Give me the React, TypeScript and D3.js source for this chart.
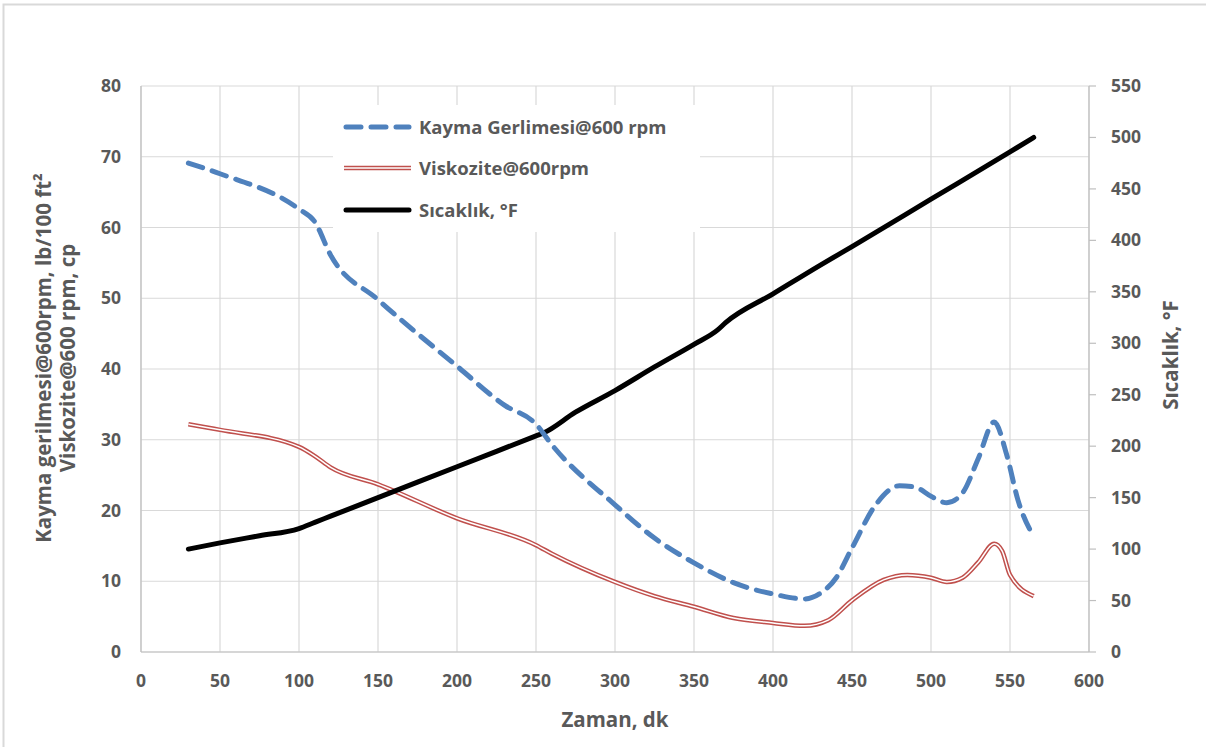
import React from 'react';
import { scaleLinear, line, curveMonotoneX, range } from 'd3';

const W = 1206;
const H = 747;

// time, min
const zaman = [30, 50, 100, 110, 120, 150, 200, 230, 250, 260, 300, 325, 350, 375, 400, 420, 430, 440, 450, 465, 480, 490, 500, 510, 520, 530, 540, 548, 555, 565];
// shear stress @600 rpm
const kayma = [69.1, 67.6, 62.6, 60.8, 56.1, 49.8, 40.4, 34.9, 32.2, 29.3, 20.8, 16.1, 12.6, 9.8, 8.2, 7.5, 8.3, 10.5, 14.7, 20.8, 23.5, 23.3, 22.0, 21.1, 22.5, 27.4, 32.5, 27.8, 21.5, 16.3];

const viskT = [30, 50, 100, 110, 120, 150, 200, 250, 260, 300, 325, 350, 375, 400, 420, 435, 450, 470, 485, 500, 510, 520, 530, 540, 545, 550, 565];
const visk = [32.2, 31.4, 29.0, 27.7, 26.1, 23.7, 18.9, 15.1, 13.9, 9.9, 7.9, 6.4, 4.8, 4.1, 3.7, 4.5, 7.3, 10.2, 10.9, 10.5, 9.9, 10.5, 12.7, 15.3, 14.3, 10.9, 7.9];

const sicakT = [30, 50, 75, 100, 110, 120, 150, 200, 250, 255, 275, 300, 325, 350, 365, 370, 400, 430, 450, 500, 550, 565];
const sicak = [100, 106, 113, 120, 126, 132, 150, 180, 210, 213, 233, 254, 277, 299, 313, 320, 348, 376, 394, 440, 486, 500];

const xTicks = range(0, 601, 50);
const yLeftTicks = range(0, 81, 10);
const yRightTicks = range(0, 551, 50);

const legendItems = ['Kayma Gerlimesi@600 rpm', 'Viskozite@600rpm', 'Sıcaklık, °F'];

const textColor = '#595959';
const font = '"Open Sans", Lato, sans-serif';

export default function App() {
  const x = scaleLinear().domain([0, 600]).range([141, 1089]);
  const yL = scaleLinear().domain([0, 80]).range([652, 86]);
  const yR = scaleLinear().domain([0, 550]).range([652, 86]);

  const lineL = line<[number, number]>().x(d => x(d[0])).y(d => yL(d[1])).curve(curveMonotoneX);
  const lineR = line<[number, number]>().x(d => x(d[0])).y(d => yR(d[1])).curve(curveMonotoneX);

  const kaymaPath = lineL(zaman.map((t, i) => [t, kayma[i]])) || '';
  const viskPath = lineL(viskT.map((t, i) => [t, visk[i]])) || '';
  const sicakPath = lineR(sicakT.map((t, i) => [t, sicak[i]])) || '';

  const legX = 333, legY = 105;
  const rowY = [127, 168, 210];

  return (
    <svg width={W} height={H} style={{ position: 'absolute', left: 0, top: 0, background: '#fff' }} fontFamily={font}>
      <rect x={3.5} y={4.5} width={W} height={H} fill="#fff" stroke="#d9d9d9" strokeWidth={2} />

      {/* grid */}
      {yLeftTicks.map(v => (
        <line key={'gy' + v} x1={x(0)} x2={x(600)} y1={yL(v)} y2={yL(v)} stroke="#d9d9d9" strokeWidth={1.2} />
      ))}
      {xTicks.map(v => (
        <line key={'gx' + v} x1={x(v)} x2={x(v)} y1={yL(0)} y2={yL(80)} stroke="#d9d9d9" strokeWidth={1.2} />
      ))}
      <line x1={x(0)} x2={x(0)} y1={yL(0)} y2={yL(80)} stroke="#bfbfbf" strokeWidth={1.2} />
      <line x1={x(0)} x2={x(600)} y1={yL(0)} y2={yL(0)} stroke="#bfbfbf" strokeWidth={1.2} />
      <line x1={x(600)} x2={x(600)} y1={yR(0)} y2={yR(550)} stroke="#bfbfbf" strokeWidth={1.2} />
      {yRightTicks.map(v => (
        <line key={'rt' + v} x1={x(600)} x2={x(600) + 7} y1={yR(v)} y2={yR(v)} stroke="#bfbfbf" strokeWidth={1.2} />
      ))}

      {/* tick labels */}
      {xTicks.map(v => (
        <text key={'xl' + v} x={x(v)} y={687} textAnchor="middle" fontSize={17.5} fontWeight="bold" fill={textColor}>{v}</text>
      ))}
      {yLeftTicks.map(v => (
        <text key={'yl' + v} x={121} y={yL(v) + 6} textAnchor="end" fontSize={17.5} fontWeight="bold" fill={textColor}>{v}</text>
      ))}
      {yRightTicks.map(v => (
        <text key={'yr' + v} x={1111} y={yR(v) + 6} textAnchor="start" fontSize={17.5} fontWeight="bold" fill={textColor}>{v}</text>
      ))}

      {/* axis titles */}
      <text x={615} y={727} textAnchor="middle" fontSize={20.5} fontWeight="bold" fill={textColor}>Zaman, dk</text>
      <text transform="translate(51,358) rotate(-90)" textAnchor="middle" fontSize={20.5} fontWeight="bold" fill={textColor}>
        Kayma gerilmesi@600rpm, lb/100 ft²
      </text>
      <text transform="translate(75,358) rotate(-90)" textAnchor="middle" fontSize={20.5} fontWeight="bold" fill={textColor}>
        Viskozite@600 rpm, cp
      </text>
      <text transform="translate(1178,355) rotate(-90)" textAnchor="middle" fontSize={20.5} fontWeight="bold" fill={textColor}>
        Sıcaklık, °F
      </text>

      {/* legend */}
      <rect x={legX} y={legY} width={367} height={127} fill="#fff" />

      {/* series */}
      <path d={viskPath} fill="none" stroke="#c0504d" strokeWidth={4.5} strokeLinejoin="round" />
      <path d={viskPath} fill="none" stroke="#fff" strokeWidth={1.5} strokeLinejoin="round" />
      <path d={sicakPath} fill="none" stroke="#000" strokeWidth={5} strokeLinejoin="round" strokeLinecap="round" />
      <path d={kaymaPath} fill="none" stroke="#4f81bd" strokeWidth={5} strokeDasharray="15 10" strokeLinecap="round" />

      <g>
        <line x1={346} x2={409} y1={rowY[0]} y2={rowY[0]} stroke="#4f81bd" strokeWidth={5} strokeDasharray="15 10" strokeLinecap="round" />
        <line x1={344} x2={411} y1={rowY[1]} y2={rowY[1]} stroke="#c0504d" strokeWidth={4.5} />
        <line x1={344} x2={411} y1={rowY[1]} y2={rowY[1]} stroke="#fff" strokeWidth={1.5} />
        <line x1={346} x2={409} y1={rowY[2]} y2={rowY[2]} stroke="#000" strokeWidth={5} strokeLinecap="round" />
        {legendItems.map((t, i) => (
          <text key={t} x={419} y={rowY[i] + 7} fontSize={18.5} fontWeight="bold" fill={textColor}>{t}</text>
        ))}
      </g>
    </svg>
  );
}
